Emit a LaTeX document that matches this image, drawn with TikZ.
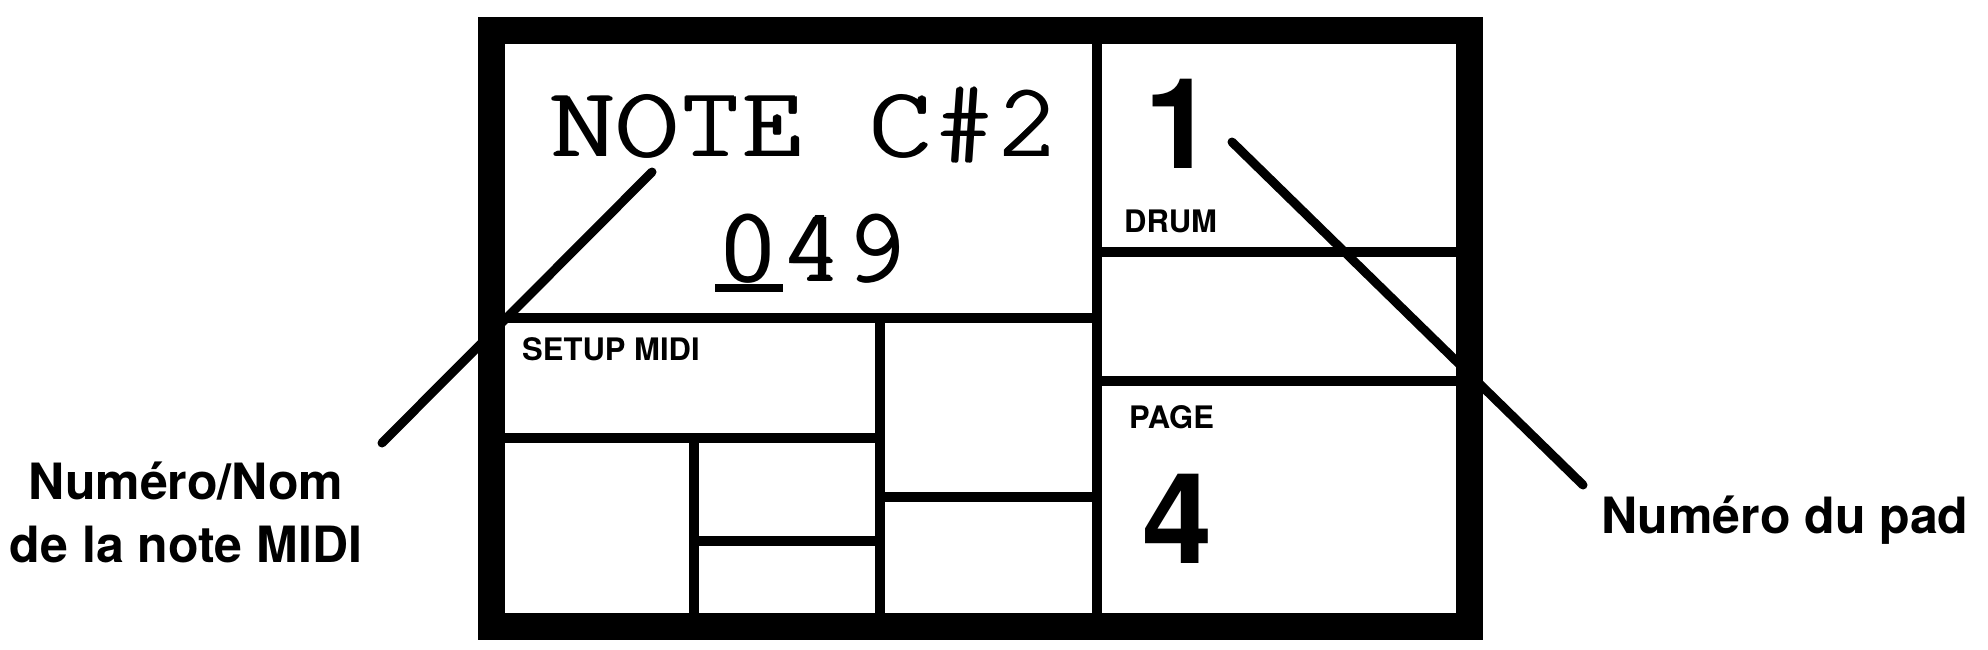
\documentclass[tikz,border=0pt]{standalone}
\usepackage[T1]{fontenc}
\usepackage{fontspec}
\setmainfont{TeX Gyre Heros}
\newfontfamily\panelfont{TeX Gyre Heros}
\usepackage{tikz}

\newcommand{\lcdfont}{\fontencoding{T1}\fontfamily{pcr}\selectfont}
% thicker strokes: the regular cut set several times, slightly shifted
\newcommand{\lcdheavy}[1]{\rlap{#1}\rlap{\kern1.8pt#1}\rlap{\kern1.8pt\raisebox{1.6pt}{#1}}\kern3.6pt#1}

\begin{document}
\begin{tikzpicture}[x=1pt, y=-1pt,
    lcdframe/.style={line width=27pt},
    lcdline/.style={line width=9.5pt},
    leader/.style={line width=9pt, line cap=round},
    lcdtext/.style={font={\lcdfont\fontsize{106}{106}\selectfont}, inner sep=0pt, anchor=base},
    smalllabel/.style={font={\panelfont\bfseries\fontsize{31}{31}\selectfont}, inner sep=0pt, anchor=base west},
    bignum/.style={font={\panelfont\bfseries\fontsize{126}{126}\selectfont}, inner sep=0pt, anchor=base west},
    callout/.style={font={\panelfont\bfseries\fontsize{50}{63}\selectfont}, inner sep=0pt}]
            \useasboundingbox (0,0) rectangle (1988,650);
            % display frame and cells
            \draw[lcdframe] (491,31) rectangle (1469,626);
            \draw[lcdline] (1097,31) -- (1097,626);
            \draw[lcdline] (491,318) -- (1097,318);
            \draw[lcdline] (1097,252) -- (1469,252);
            \draw[lcdline] (1097,381) -- (1469,381);
            \draw[lcdline] (880,318) -- (880,626);
            \draw[lcdline] (491,438) -- (880,438);
            \draw[lcdline] (694,438) -- (694,626);
            \draw[lcdline] (694,541) -- (880,541);
            \draw[lcdline] (880,497) -- (1097,497);

            \node[lcdtext] (notename) at (806,157) {\lcdheavy{NOTE C\#2}};
            \node[lcdtext] (notenum) at (812,281) {\lcdheavy{049}};
            \draw[line width=8pt] (715,288) -- (783,288);
            \node[smalllabel] (setup) at (522,360) {SETUP MIDI};
            \node[bignum] (padnum) at (1144,168) {1};
            \node[smalllabel] (drum) at (1124,232) {DRUM};
            \node[smalllabel] (page) at (1129,428) {PAGE};
            \node[bignum] (pagenum) at (1142,563) {4};

            % callouts
            \node[callout, align=center, anchor=south] (notelabel) at (186,563) {Numéro/Nom\\de la note MIDI};
            \node[callout, anchor=base west] (padlabel) at (1601,533) {Numéro du pad};
            \coordinate (notetail) at (382,443);
            \coordinate (notetip) at (652,172);
            \coordinate (padtip) at (1232,142);
            \coordinate (padtail) at (1583,485);

            \path[leader] (notetail) edge (notetip);
            \path[leader] (padtail) edge (padtip);
\end{tikzpicture}
\end{document}
